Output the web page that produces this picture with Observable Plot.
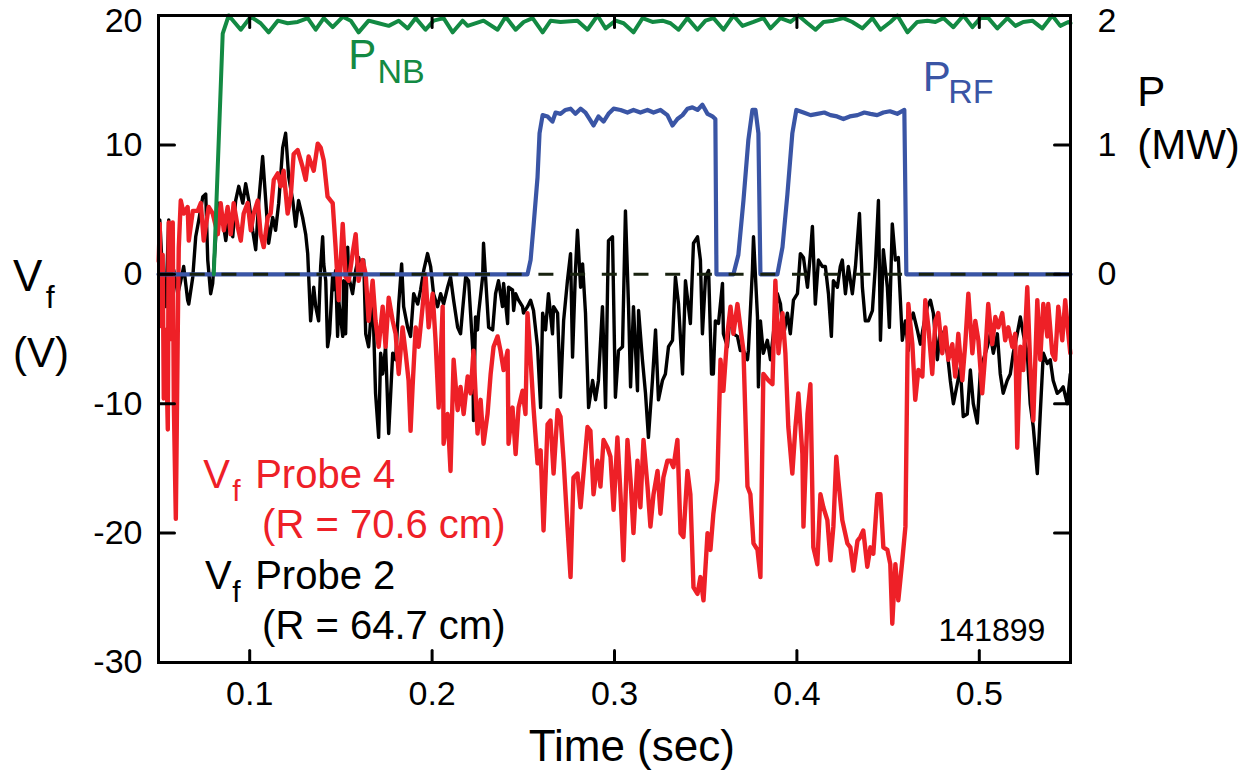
<!DOCTYPE html>
<html>
<head>
<meta charset="utf-8">
<script src="https://cdn.jsdelivr.net/npm/d3@7"></script>
<script src="https://cdn.jsdelivr.net/npm/@observablehq/plot@0.6"></script>
<style>
  html, body { margin: 0; padding: 0; background: #fff; }
  svg { display: block; }
</style>
</head>
<body>
<script>
// ---- data (time in s, Vf in V, powers in MW) ----
const timeTicks = [0.1, 0.2, 0.3, 0.4, 0.5];
const vfTicks = [20, 10, 0, -10, -20, -30];
const pTicks = [2, 1, 0];

// Vf Probe 4 (R = 70.6 cm) – red
const probe4 = [[0.0501,1.0],[0.0507,3.9],[0.0512,-4.0],[0.0523,1.5],[0.0529,-9.6],[0.0540,-4.3],[0.0551,-12.0],[0.0556,4.0],[0.0567,-5.0],[0.0578,4.0],[0.0584,-10.0],[0.0595,-18.9],[0.0606,-4.0],[0.0611,2.0],[0.0622,5.7],[0.0638,4.7],[0.0660,5.2],[0.0666,2.6],[0.0688,4.9],[0.0715,4.9],[0.0732,5.5],[0.0748,2.6],[0.0775,5.2],[0.0797,4.7],[0.0825,3.1],[0.0841,5.5],[0.0858,3.4],[0.0879,5.2],[0.0896,3.1],[0.0912,5.5],[0.0934,3.7],[0.0951,2.6],[0.0967,4.7],[0.0989,5.5],[0.1006,3.4],[0.1022,4.7],[0.1044,5.7],[0.1060,3.1],[0.1077,2.1],[0.1099,4.4],[0.1115,4.7],[0.1132,7.3],[0.1154,7.8],[0.1170,6.8],[0.1186,8.0],[0.1208,4.7],[0.1225,6.0],[0.1241,9.3],[0.1263,9.6],[0.1290,8.3],[0.1307,7.3],[0.1323,9.1],[0.1351,8.0],[0.1373,10.1],[0.1389,9.8],[0.1406,8.8],[0.1427,6.0],[0.1444,5.7],[0.1455,5.5],[0.1471,2.1],[0.1488,-2.0],[0.1510,3.9],[0.1526,-0.2],[0.1543,-0.5],[0.1564,1.6],[0.1581,3.1],[0.1597,-0.5],[0.1619,1.1],[0.1636,0],[0.1652,-3.6],[0.1674,-0.5],[0.1690,-3.6],[0.1707,-5.6],[0.1729,-2.5],[0.1745,-5.6],[0.1762,-1.8],[0.1784,-3.6],[0.1800,-4.6],[0.1817,-7.7],[0.1838,-4.1],[0.1855,-6.1],[0.1871,-8.2],[0.1882,-12.1],[0.1893,-8.7],[0.1910,-4.1],[0.1926,-5.6],[0.1948,-2.5],[0.1964,0],[0.1981,-4.1],[0.2003,-1.5],[0.2019,-5.1],[0.2036,-10.3],[0.2058,-2.5],[0.2063,-13.1],[0.2085,-10.8],[0.2101,-15.2],[0.2118,-6.6],[0.2140,-10.5],[0.2156,-8.7],[0.2173,-10.8],[0.2195,-7.9],[0.2211,-9.2],[0.2227,-5.9],[0.2249,-12.3],[0.2266,-9.7],[0.2282,-13.1],[0.2304,-10.8],[0.2321,-7.7],[0.2337,-5.6],[0.2359,-4.8],[0.2375,-5.9],[0.2392,-7.4],[0.2414,-5.9],[0.2419,-13.1],[0.2441,-10.3],[0.2458,-13.9],[0.2474,-10.3],[0.2496,-9.0],[0.2512,-10.8],[0.2523,-3.0],[0.2540,-6.6],[0.2556,-10.3],[0.2578,-14.6],[0.2595,-13.6],[0.2611,-19.8],[0.2633,-11.6],[0.2649,-11.3],[0.2666,-15.4],[0.2688,-10.5],[0.2704,-11.0],[0.2721,-14.4],[0.2742,-19.5],[0.2759,-23.4],[0.2775,-15.7],[0.2797,-15.4],[0.2814,-18.0],[0.2830,-15.4],[0.2852,-11.8],[0.2868,-12.1],[0.2885,-17.0],[0.2907,-14.4],[0.2923,-16.4],[0.2940,-12.8],[0.2962,-13.4],[0.2978,-14.1],[0.2995,-18.2],[0.3016,-12.6],[0.3033,-17.0],[0.3049,-22.1],[0.3071,-12.8],[0.3088,-15.9],[0.3104,-20.0],[0.3126,-14.4],[0.3142,-18.0],[0.3159,-12.8],[0.3181,-16.4],[0.3197,-19.5],[0.3214,-17.0],[0.3236,-15.2],[0.3252,-18.5],[0.3268,-15.7],[0.3290,-14.4],[0.3307,-14.4],[0.3323,-14.9],[0.3345,-12.8],[0.3362,-20.0],[0.3378,-20.3],[0.3400,-15.2],[0.3416,-17.0],[0.3433,-24.2],[0.3455,-24.7],[0.3471,-23.4],[0.3488,-25.2],[0.3510,-20.0],[0.3526,-21.3],[0.3542,-18.5],[0.3564,-15.9],[0.3581,-6.6],[0.3597,-9.0],[0.3619,-4.6],[0.3636,-2.5],[0.3652,-4.6],[0.3674,-2.3],[0.3690,-4.1],[0.3707,-5.9],[0.3729,-16.4],[0.3745,-17.0],[0.3762,-20.8],[0.3784,-21.3],[0.3800,-23.4],[0.3816,-7.7],[0.3844,-8.2],[0.3866,-8.5],[0.3882,-0.5],[0.3899,-6.1],[0.3921,-3.0],[0.3937,-6.1],[0.3953,-11.8],[0.3975,-15.4],[0.3992,-11.8],[0.4008,-9.2],[0.4030,-13.9],[0.4036,-19.5],[0.4058,-10.8],[0.4074,-8.5],[0.4090,-21.1],[0.4112,-22.4],[0.4129,-17.0],[0.4145,-18.0],[0.4167,-19.0],[0.4184,-22.1],[0.4200,-19.5],[0.4216,-14.1],[0.4227,-15.9],[0.4249,-19.0],[0.4277,-20.8],[0.4293,-21.1],[0.4310,-22.9],[0.4332,-20.6],[0.4348,-20.3],[0.4364,-19.8],[0.4386,-22.6],[0.4403,-21.1],[0.4419,-21.6],[0.4441,-17.0],[0.4458,-17.0],[0.4474,-21.1],[0.4496,-21.3],[0.4512,-22.4],[0.4523,-27.0],[0.4540,-22.4],[0.4556,-25.2],[0.4578,-22.1],[0.4595,-19.5],[0.4606,-6.6],[0.4611,-2.3],[0.4633,-5.4],[0.4649,-9.7],[0.4666,-7.4],[0.4688,-7.9],[0.4704,-2.0],[0.4721,-4.1],[0.4742,-7.7],[0.4759,-3.6],[0.4775,-3.0],[0.4797,-6.1],[0.4814,-4.1],[0.4830,-6.6],[0.4852,-5.4],[0.4868,-7.9],[0.4885,-4.6],[0.4907,-8.2],[0.4923,-5.4],[0.4940,-1.5],[0.4962,-6.1],[0.4978,-3.6],[0.4995,-5.1],[0.5016,-9.2],[0.5033,-6.1],[0.5049,-2.3],[0.5071,-5.4],[0.5088,-3.3],[0.5104,-4.1],[0.5126,-3.0],[0.5142,-5.1],[0.5159,-4.1],[0.5181,-5.6],[0.5197,-4.6],[0.5208,-13.4],[0.5225,-5.6],[0.5241,-7.4],[0.5263,-1.0],[0.5279,-6.9],[0.5296,-11.3],[0.5318,-2.0],[0.5334,-6.6],[0.5351,-2.3],[0.5373,-4.8],[0.5378,-2.3],[0.5400,-6.1],[0.5416,-6.6],[0.5433,-2.5],[0.5455,-5.1],[0.5471,-2.0],[0.5488,-4.6],[0.5499,-6.1]];

// Vf Probe 2 (R = 64.7 cm) – black
const probe2 = [[0.0501,0.6],[0.0507,4.2],[0.0523,-0.2],[0.0540,-2.5],[0.0556,4.2],[0.0567,1.1],[0.0584,0.3],[0.0606,-1.5],[0.0622,-0.5],[0.0638,0.6],[0.0660,-2.0],[0.0666,-2.3],[0.0688,-0.2],[0.0704,2.9],[0.0721,4.2],[0.0743,6.0],[0.0759,6.2],[0.0770,1.1],[0.0786,-1.5],[0.0797,-0.7],[0.0814,2.9],[0.0830,5.5],[0.0852,4.2],[0.0869,2.6],[0.0885,4.4],[0.0907,2.9],[0.0923,5.7],[0.0940,6.8],[0.0962,5.5],[0.0978,7.0],[0.0995,5.7],[0.1016,3.4],[0.1033,1.9],[0.1049,5.5],[0.1071,9.1],[0.1088,5.7],[0.1104,2.4],[0.1126,4.4],[0.1142,3.4],[0.1159,5.5],[0.1181,9.8],[0.1197,10.9],[0.1214,7.5],[0.1236,5.7],[0.1252,3.7],[0.1268,5.7],[0.1290,4.4],[0.1307,3.1],[0.1318,1.6],[0.1334,-3.6],[0.1351,-1.0],[0.1362,-2.5],[0.1378,-3.6],[0.1389,0.6],[0.1400,2.9],[0.1406,0.8],[0.1417,-0.5],[0.1427,-5.6],[0.1438,-4.6],[0.1455,0],[0.1460,-1.2],[0.1471,0.3],[0.1482,-4.8],[0.1488,-2.0],[0.1510,-4.8],[0.1515,-0.5],[0.1526,-4.6],[0.1537,2.1],[0.1543,-0.2],[0.1564,-1.5],[0.1581,0.3],[0.1597,1.3],[0.1608,0.6],[0.1625,1.1],[0.1636,-4.6],[0.1652,-5.6],[0.1674,-1.5],[0.1690,-9.2],[0.1707,-12.6],[0.1718,-6.1],[0.1729,-7.7],[0.1745,-5.6],[0.1762,-12.3],[0.1784,-6.1],[0.1800,-6.6],[0.1817,-2.3],[0.1833,0.8],[0.1844,-2.5],[0.1866,-4.1],[0.1882,-4.8],[0.1899,-1.5],[0.1921,-2.3],[0.1937,-1.2],[0.1954,0.3],[0.1975,1.6],[0.1992,0.6],[0.2008,-1.5],[0.2030,-2.5],[0.2047,-1.5],[0.2063,-2.3],[0.2085,-1.0],[0.2101,-0.2],[0.2118,-2.0],[0.2140,-4.1],[0.2156,-4.6],[0.2167,-2.8],[0.2184,-0.2],[0.2200,-0.5],[0.2222,-5.6],[0.2227,-11.3],[0.2238,-3.3],[0.2249,-4.3],[0.2255,-3.0],[0.2277,-0.2],[0.2282,2.4],[0.2293,-0.2],[0.2310,-4.1],[0.2332,-4.3],[0.2348,-1.5],[0.2364,-0.5],[0.2386,-2.5],[0.2392,-0.7],[0.2414,-3.8],[0.2419,-1.0],[0.2441,-1.2],[0.2447,-2.8],[0.2458,-1.5],[0.2474,-2.0],[0.2496,-2.5],[0.2501,-3.0],[0.2523,-2.5],[0.2540,-2.0],[0.2556,-2.8],[0.2578,-5.6],[0.2595,-10.3],[0.2606,-3.0],[0.2622,-4.3],[0.2638,-1.5],[0.2660,-4.6],[0.2666,-2.5],[0.2688,-3.0],[0.2704,-9.5],[0.2721,-3.6],[0.2742,-0.5],[0.2759,1.6],[0.2770,-6.4],[0.2786,0.3],[0.2797,3.4],[0.2814,-1.0],[0.2825,0.8],[0.2841,-3.0],[0.2858,-10.3],[0.2880,-8.2],[0.2896,-9.7],[0.2912,-8.2],[0.2934,-2.5],[0.2951,-10.3],[0.2962,-1.0],[0.2967,2.6],[0.2989,2.9],[0.3005,-9.5],[0.3022,-5.9],[0.3044,-5.6],[0.3060,4.9],[0.3077,-2.5],[0.3088,-8.7],[0.3104,-2.5],[0.3126,-9.0],[0.3132,-2.8],[0.3153,-6.6],[0.3170,-9.2],[0.3186,-12.6],[0.3208,-8.2],[0.3225,-4.3],[0.3241,-9.7],[0.3263,-8.2],[0.3279,-7.7],[0.3296,-5.6],[0.3318,-5.1],[0.3334,-0.2],[0.3351,-2.3],[0.3373,-7.7],[0.3389,-0.5],[0.3416,-3.8],[0.3433,2.4],[0.3455,2.9],[0.3471,1.1],[0.3482,-4.6],[0.3499,-0.2],[0.3516,0.3],[0.3532,-7.7],[0.3542,-7.7],[0.3553,-3.6],[0.3570,-3.8],[0.3592,-0.7],[0.3597,-4.6],[0.3619,-5.6],[0.3636,-2.8],[0.3652,-4.6],[0.3674,-4.8],[0.3690,-5.9],[0.3707,-5.9],[0.3729,-6.6],[0.3734,-5.9],[0.3756,0.3],[0.3762,2.9],[0.3784,-3.3],[0.3789,-8.7],[0.3800,-3.6],[0.3816,-6.1],[0.3838,-5.1],[0.3855,-6.6],[0.3871,-4.6],[0.3893,-1.5],[0.3910,-2.3],[0.3926,-4.8],[0.3948,-3.0],[0.3964,-4.6],[0.3981,-2.0],[0.4003,-1.5],[0.4019,1.6],[0.4036,1.3],[0.4058,-1.0],[0.4074,1.6],[0.4085,3.7],[0.4101,-2.3],[0.4118,1.1],[0.4140,0.6],[0.4156,0.6],[0.4173,-1.5],[0.4189,-4.8],[0.4200,-0.5],[0.4222,-1.0],[0.4238,0.6],[0.4249,1.1],[0.4266,-1.5],[0.4282,0.6],[0.4304,-1.5],[0.4321,0.6],[0.4343,4.7],[0.4359,-1.0],[0.4375,-3.6],[0.4392,-3.6],[0.4414,-2.8],[0.4430,0.6],[0.4447,5.7],[0.4458,-5.1],[0.4474,1.9],[0.4496,-1.0],[0.4507,-4.1],[0.4523,3.9],[0.4540,1.1],[0.4556,1.3],[0.4578,-5.1],[0.4595,-3.6],[0.4611,-5.9],[0.4622,-3.6],[0.4638,-3.0],[0.4660,-4.3],[0.4677,-5.4],[0.4693,-4.1],[0.4715,-2.5],[0.4732,-2.0],[0.4748,-3.0],[0.4770,-6.6],[0.4786,-4.3],[0.4803,-4.8],[0.4825,-6.1],[0.4841,-8.2],[0.4858,-10.0],[0.4879,-8.5],[0.4896,-7.2],[0.4912,-11.0],[0.4934,-10.8],[0.4951,-7.4],[0.4967,-10.0],[0.4989,-11.5],[0.5005,-7.7],[0.5022,-6.6],[0.5044,-5.6],[0.5060,-4.6],[0.5077,-6.1],[0.5099,-4.6],[0.5115,-7.7],[0.5131,-9.2],[0.5153,-8.2],[0.5170,-7.7],[0.5186,-6.1],[0.5208,-4.6],[0.5225,-3.3],[0.5241,-4.6],[0.5263,-6.1],[0.5279,-10.0],[0.5296,-11.8],[0.5318,-15.4],[0.5334,-10.8],[0.5351,-6.1],[0.5373,-6.9],[0.5389,-6.6],[0.5405,-8.2],[0.5427,-9.2],[0.5444,-9.0],[0.5460,-8.7],[0.5482,-10.0],[0.5499,-7.7]];

// RF power P_RF (MW) – blue
const prfMW = [[0.05,0],[0.2523,0],[0.2540,0.11],[0.2556,0.37],[0.2578,0.75],[0.2589,1.09],[0.2606,1.23],[0.2633,1.22],[0.2660,1.18],[0.2677,1.25],[0.2704,1.24],[0.2731,1.27],[0.2759,1.28],[0.2786,1.24],[0.2814,1.28],[0.2841,1.25],[0.2868,1.19],[0.2885,1.15],[0.2912,1.22],[0.2940,1.18],[0.2967,1.24],[0.2995,1.28],[0.3033,1.27],[0.3071,1.25],[0.3104,1.27],[0.3142,1.25],[0.3181,1.27],[0.3214,1.25],[0.3252,1.27],[0.3290,1.23],[0.3318,1.15],[0.3345,1.20],[0.3373,1.23],[0.3400,1.28],[0.3427,1.29],[0.3455,1.27],[0.3482,1.31],[0.3510,1.24],[0.3537,1.22],[0.3553,1.20],[0.3559,0],[0.3652,0],[0.3679,0.15],[0.3707,0.57],[0.3734,1.04],[0.3756,1.27],[0.3773,1.27],[0.3789,1.09],[0.3800,0],[0.3893,0],[0.3921,0.21],[0.3948,0.62],[0.3975,1.09],[0.3997,1.27],[0.4036,1.25],[0.4075,1.23],[0.4112,1.24],[0.4150,1.25],[0.4184,1.23],[0.4220,1.22],[0.4255,1.20],[0.4290,1.22],[0.4332,1.23],[0.4370,1.25],[0.4403,1.24],[0.4440,1.23],[0.4474,1.25],[0.4510,1.26],[0.4550,1.24],[0.4589,1.27],[0.4600,0],[0.55,0]];

// Neutral beam power P_NB (MW) – green
const pnbMW = [[0.0803,0],[0.0852,1.86],[0.0885,2.00],[0.0951,1.89],[0.1006,1.99],[0.1060,1.94],[0.1104,1.87],[0.1154,1.96],[0.1208,1.94],[0.1263,1.95],[0.1318,1.98],[0.1362,1.89],[0.1406,1.98],[0.1455,1.91],[0.1510,1.99],[0.1554,1.96],[0.1597,1.87],[0.1652,1.96],[0.1707,1.94],[0.1762,1.92],[0.1817,1.96],[0.1866,1.90],[0.1910,1.98],[0.1964,1.89],[0.2008,1.96],[0.2063,1.98],[0.2113,1.87],[0.2167,1.96],[0.2195,1.92],[0.2282,1.96],[0.2359,1.89],[0.2403,1.99],[0.2458,1.89],[0.2502,1.95],[0.2551,1.98],[0.2606,1.87],[0.2650,1.96],[0.2704,1.95],[0.2797,1.96],[0.2852,1.89],[0.2907,2.00],[0.2951,1.90],[0.3006,1.96],[0.3050,1.94],[0.3104,1.87],[0.3154,1.98],[0.3208,1.95],[0.3263,1.96],[0.3307,1.94],[0.3351,1.89],[0.3400,1.98],[0.3455,1.89],[0.3499,1.96],[0.3543,1.98],[0.3598,1.89],[0.3652,2.00],[0.3702,1.92],[0.3762,1.95],[0.3817,1.98],[0.3855,1.90],[0.3910,1.98],[0.3965,1.95],[0.4008,2.00],[0.4058,1.94],[0.4102,1.89],[0.4146,1.95],[0.4200,1.96],[0.4255,1.98],[0.4304,1.95],[0.4359,1.90],[0.4414,1.98],[0.4458,1.89],[0.4513,1.95],[0.4551,2.00],[0.4606,1.87],[0.4660,1.95],[0.4715,1.96],[0.4759,1.95],[0.4803,1.98],[0.4858,1.91],[0.4913,2.00],[0.4962,1.91],[0.5006,1.98],[0.5050,1.98],[0.5099,1.90],[0.5154,1.98],[0.5198,1.92],[0.5241,1.95],[0.5291,1.96],[0.5345,1.90],[0.5400,2.00],[0.5444,1.92],[0.5488,1.95],[0.5500,1.94]];

// ---- chart ----
const RED = "#ee2027", BLUE = "#3a55a5", GREEN = "#138a43";
const MW_TO_V = 10; // right axis: 2 MW at the top of the 20 V left axis
const tickShape = {draw(ctx, l) { ctx.moveTo(0, 0); ctx.lineTo(0, -l); }};
const tickOpts = {shape: tickShape, anchor: "start", stroke: "black", strokeWidth: 3};
const label = (text, x, y, o = {}) =>
  Plot.text([text], {x, y, text: d => d, textAnchor: "start", lineAnchor: "bottom", fontSize: 40, fill: "black", ...o});
const topV = vfTicks.filter(v => v === 20);
const otherV = vfTicks.filter(v => v !== 20);
const topP = pTicks.filter(p => p === 2).map(p => p * MW_TO_V);
const otherP = pTicks.filter(p => p !== 2).map(p => p * MW_TO_V);
const yLabelOpts = {tickSize: 0, tickFormat: d => String(d), fontSize: 34, label: null};
const pLabelOpts = {tickSize: 0, tickFormat: d => String(d / MW_TO_V), fontSize: 34, label: null};

const chart = Plot.plot({
  width: 1260,
  height: 771,
  marginLeft: 158,
  marginRight: 190,
  marginTop: 15,
  marginBottom: 109,
  x: {domain: [0.05, 0.55]},
  y: {domain: [-30, 20]},
  style: {fontFamily: "'Liberation Sans', Arial, Helvetica, sans-serif", background: "white", overflow: "visible", color: "black"},
  marks: [
    Plot.line(probe2, {x: d => d[0], y: d => d[1], stroke: "#000", strokeWidth: 3.4}),
    Plot.line(probe4, {x: d => d[0], y: d => d[1], stroke: RED, strokeWidth: 4.4}),
    Plot.line(prfMW, {x: d => d[0], y: d => d[1] * MW_TO_V, stroke: BLUE, strokeWidth: 4.2}),
    Plot.ruleY([0], {stroke: "#18220f", strokeWidth: 3, strokeDasharray: "15,16.7"}),
    Plot.line(pnbMW, {x: d => d[0], y: d => d[1] * MW_TO_V, stroke: GREEN, strokeWidth: 4}),
    Plot.frame({stroke: "black", strokeWidth: 3}),
    Plot.vector(vfTicks, {y: d => d, frameAnchor: "left", rotate: 90, length: 16, ...tickOpts}),
    Plot.vector(vfTicks, {y: d => d, frameAnchor: "right", rotate: -90, length: 16, ...tickOpts}),
    Plot.vector(timeTicks, {x: d => d, frameAnchor: "bottom", rotate: 0, length: 12, ...tickOpts}),
    Plot.vector(timeTicks, {x: d => d, frameAnchor: "top", rotate: 180, length: 12, ...tickOpts}),
    Plot.axisY(otherV, {anchor: "left", tickPadding: 16, ...yLabelOpts}),
    Plot.axisY(topV, {anchor: "left", tickPadding: 16, dy: 6, ...yLabelOpts}),
    Plot.axisY(otherP, {anchor: "right", tickPadding: 27, ...pLabelOpts}),
    Plot.axisY(topP, {anchor: "right", tickPadding: 27, dy: 6, ...pLabelOpts}),
    Plot.axisX(timeTicks, {anchor: "bottom", tickSize: 0, tickPadding: 18, tickFormat: d => String(d), fontSize: 34, label: null}),
    Plot.text(["Time (sec)"], {x: 0.3095, frameAnchor: "bottom", dy: 84, text: d => d, fontSize: 44, lineAnchor: "middle"}),
    // left axis title Vf (V)
    label("V", -0.0298, -1.3, {fontSize: 44}),
    label("f", -0.0118, -2.6, {fontSize: 32}),
    label("(V)", -0.0298, -7.2, {fontSize: 42}),
    // right axis title P (MW)
    label("P", 0.5866, 13.0, {fontSize: 42}),
    label("(MW)", 0.5866, 8.9, {fontSize: 42}),
    // P_NB and P_RF
    label("P", 0.1540, 15.9, {fill: GREEN, fontSize: 42}),
    label("NB", 0.1700, 14.8, {fill: GREEN, fontSize: 34}),
    label("P", 0.4690, 14.2, {fill: BLUE, fontSize: 42}),
    label("RF", 0.4830, 13.2, {fill: BLUE, fontSize: 34}),
    // probe labels
    label("V", 0.0745, -16.5, {fill: RED}),
    label("f", 0.0905, -17.5, {fill: RED, fontSize: 30}),
    label("Probe 4", 0.1030, -16.5, {fill: RED}),
    label("(R = 70.6 cm)", 0.1068, -20.4, {fill: RED}),
    label("V", 0.0755, -24.3),
    label("f", 0.0905, -25.3, {fontSize: 30}),
    label("Probe 2", 0.1030, -24.3),
    label("(R = 64.7 cm)", 0.1068, -28.2),
    label("141899", 0.5362, -28.3, {textAnchor: "end", fontSize: 32})
  ]
});
document.body.append(chart);
</script>
</body>
</html>
